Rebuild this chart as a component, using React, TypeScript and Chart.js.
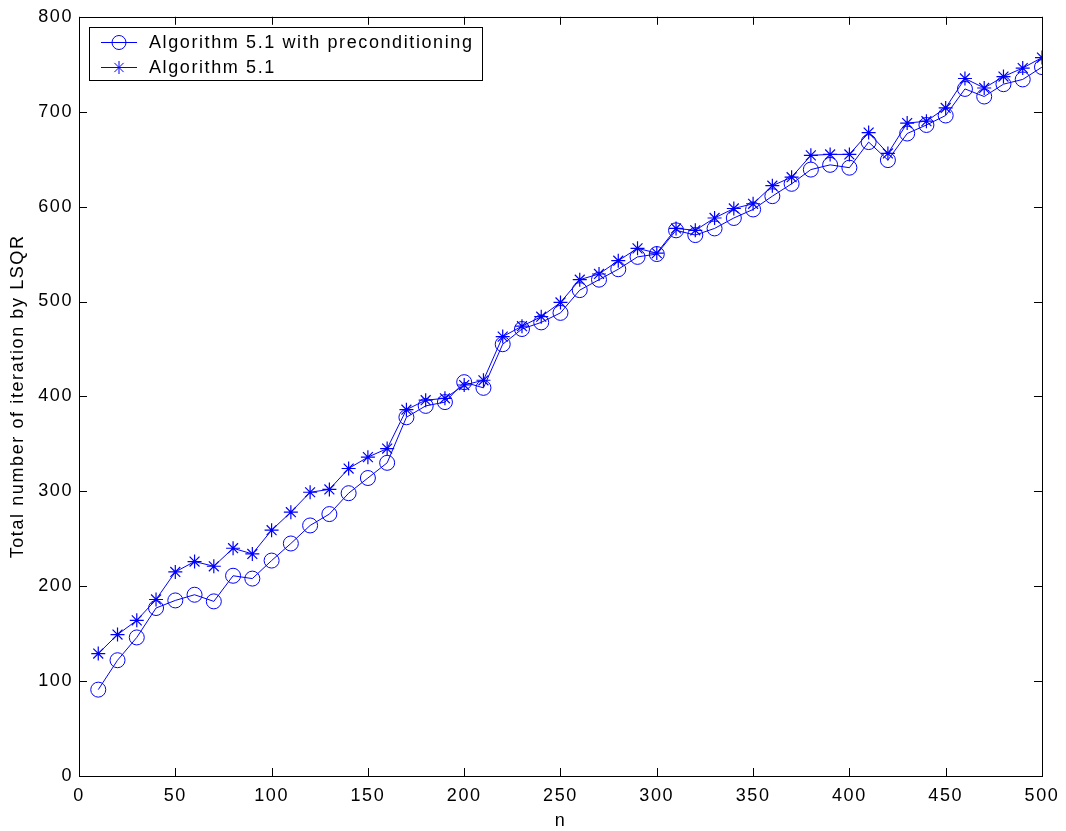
import React, { useEffect, useRef } from "react";
import { Chart, registerables } from "chart.js";

Chart.register(...registerables);

const nValues = [10, 20, 30, 40, 50, 60, 70, 80, 90, 100, 110, 120, 130, 140, 150, 160, 170, 180, 190, 200, 210, 220, 230, 240, 250, 260, 270, 280, 290, 300, 310, 320, 330, 340, 350, 360, 370, 380, 390, 400, 410, 420, 430, 440, 450, 460, 470, 480, 490, 500];

const withPrecond = [91, 122, 146, 177, 185, 191, 184, 211, 208, 227, 245, 264, 276, 298, 314, 330, 378, 390, 394, 415, 409, 455, 471, 478, 488, 512, 523, 534, 547, 550, 575, 570, 577, 588, 597, 611, 624, 639, 644, 641, 668, 649, 677, 686, 696, 724, 716, 729, 734, 747];

const withoutPrecond = [129, 149, 164, 186, 215, 226, 221, 240, 234, 259, 278, 299, 302, 324, 336, 345, 386, 396, 398, 412, 417, 463, 474, 484, 499, 523, 529, 543, 556, 551, 577, 575, 588, 598, 603, 622, 631, 654, 655, 655, 678, 656, 688, 690, 704, 735, 725, 737, 746, 757];

const seriesLabels = ["Algorithm 5.1 with preconditioning", "Algorithm 5.1"];
const xTitle = "n";
const yTitle = "Total number of iteration by LSQR";

const FONT = "Liberation Sans, Arial, Helvetica, sans-serif";
const FSIZE = 18;
const SPACING = "1.6px";
const BLUE = "#0000ff";

const spacingPlugin = {
  id: "spacing",
  beforeDraw(chart: any) {
    chart.ctx.letterSpacing = SPACING;
  },
};

const boxPlugin = {
  id: "matlabBox",
  afterDraw(chart: any) {
    const { ctx, chartArea } = chart;
    const { left, right, top, bottom } = chartArea;
    const xs = chart.scales.x;
    const ys = chart.scales.y;
    const tl = 8;
    ctx.save();
    ctx.strokeStyle = "#000";
    ctx.lineWidth = 1;
    ctx.beginPath();
    xs.ticks.forEach((t: any) => {
      const px = Math.round(xs.getPixelForValue(t.value)) + 0.5;
      ctx.moveTo(px, bottom);
      ctx.lineTo(px, bottom - tl);
      ctx.moveTo(px, top);
      ctx.lineTo(px, top + tl);
    });
    ys.ticks.forEach((t: any) => {
      const py = Math.round(ys.getPixelForValue(t.value)) + 0.5;
      ctx.moveTo(left, py);
      ctx.lineTo(left + tl, py);
      ctx.moveTo(right, py);
      ctx.lineTo(right - tl, py);
    });
    ctx.stroke();
    ctx.strokeRect(Math.round(left) + 0.5, Math.round(top) + 0.5, Math.round(right - left), Math.round(bottom - top));

    // legend
    const lx = 89.5, ly = 27.5, lw = 393, lh = 53;
    ctx.fillStyle = "#fff";
    ctx.fillRect(lx, ly, lw, lh);
    ctx.strokeStyle = "#000";
    ctx.strokeRect(lx, ly, lw, lh);
    const rows = [42, 67];
    ctx.font = FSIZE + "px " + FONT;
    ctx.letterSpacing = SPACING;
    ctx.textBaseline = "middle";
    ctx.textAlign = "left";
    rows.forEach((ry, i) => {
      ctx.strokeStyle = BLUE;
      ctx.lineWidth = 1;
      ctx.beginPath();
      ctx.moveTo(101, ry + 0.5);
      ctx.lineTo(137, ry + 0.5);
      ctx.stroke();
      const cx = 119;
      if (i === 0) {
        ctx.beginPath();
        ctx.arc(cx, ry + 0.5, 7, 0, Math.PI * 2);
        ctx.stroke();
      } else {
        const r = 6.5;
        ctx.beginPath();
        for (let k = 0; k < 4; k++) {
          const a = (k * Math.PI) / 4;
          ctx.moveTo(cx - r * Math.cos(a), ry + 0.5 - r * Math.sin(a));
          ctx.lineTo(cx + r * Math.cos(a), ry + 0.5 + r * Math.sin(a));
        }
        ctx.stroke();
      }
      ctx.fillStyle = "#000";
      ctx.fillText(seriesLabels[i], 149, ry + 1);
    });
    ctx.restore();
  },
};

export default function App() {
  const ref = useRef<HTMLCanvasElement>(null);
  useEffect(() => {
    const canvas = ref.current!;
    const chart = new Chart(canvas, {
      type: "line",
      data: {
        datasets: [
          {
            label: seriesLabels[0],
            data: nValues.map((n, i) => ({ x: n, y: withPrecond[i] })),
            borderColor: BLUE,
            backgroundColor: "transparent",
            borderWidth: 1,
            pointStyle: "circle",
            pointRadius: 7.5,
            pointBorderWidth: 1,
            pointBorderColor: BLUE,
            pointBackgroundColor: "transparent",
            tension: 0,
          },
          {
            label: seriesLabels[1],
            data: nValues.map((n, i) => ({ x: n, y: withoutPrecond[i] })),
            borderColor: BLUE,
            backgroundColor: "transparent",
            borderWidth: 1,
            pointStyle: "star",
            pointRadius: 7,
            pointBorderWidth: 1.2,
            pointBorderColor: BLUE,
            pointBackgroundColor: "transparent",
            tension: 0,
          },
        ],
      },
      options: {
        responsive: false,
        animation: false,
        events: [],
        layout: { padding: { left: 0, top: 16, right: 24, bottom: 0 } },
        plugins: { legend: { display: false }, tooltip: { enabled: false } },
        scales: {
          x: {
            type: "linear",
            min: 0,
            max: 500,
            grid: { display: false, drawTicks: false },
            border: { display: false },
            ticks: { stepSize: 50, color: "#000", font: { size: FSIZE, family: FONT }, padding: 9, maxRotation: 0 },
            title: { display: true, text: xTitle, color: "#000", font: { size: FSIZE, family: FONT }, padding: { top: 0, bottom: -1 } },
            afterFit: (s: any) => { s.height = 55; },
          },
          y: {
            min: 0,
            max: 800,
            grid: { display: false, drawTicks: false },
            border: { display: false },
            ticks: { stepSize: 100, color: "#000", font: { size: FSIZE, family: FONT }, padding: 6 },
            title: { display: true, text: yTitle, color: "#000", font: { size: FSIZE, family: FONT }, padding: { top: 7, bottom: 0 } },
            afterFit: (s: any) => { s.width = 79; },
          },
        },
      },
      plugins: [spacingPlugin, boxPlugin],
    });
    return () => chart.destroy();
  }, []);
  return (
    <div style={{ position: "fixed", left: 0, top: 0, width: 1066, height: 831, background: "#fff" }}>
      <canvas ref={ref} width={1066} height={831} style={{ display: "block" }} />
    </div>
  );
}
